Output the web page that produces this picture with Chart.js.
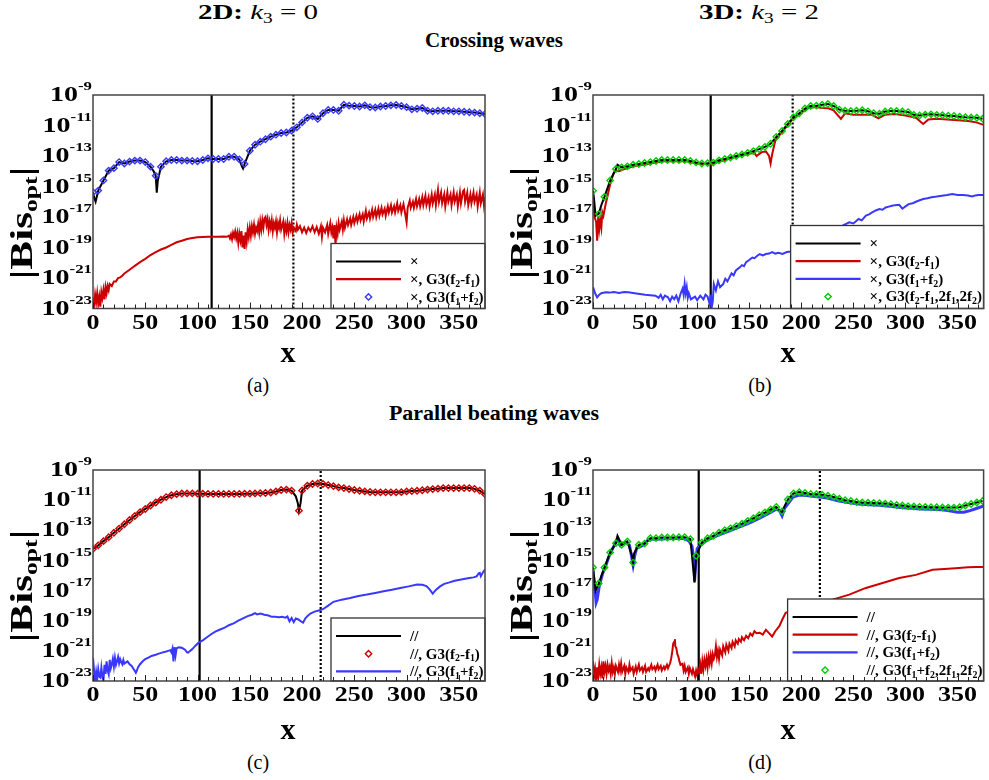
<!DOCTYPE html>
<html>
<head>
<meta charset="utf-8">
<script src="https://cdn.jsdelivr.net/npm/chart.js@4.4.1/dist/chart.umd.min.js"></script>
<style>
body { margin: 0; background: #fff; font-family: "Liberation Serif", serif; color: #000; }
#page { position: relative; width: 989px; height: 780px; overflow: hidden; }
.t { position: absolute; transform: translate(-50%, -50%); white-space: nowrap; }
.w { transform: translate(-50%, -50%) scaleX(1.38); }
.t sub { font-size: 14px; vertical-align: -4px; line-height: 0; }
canvas { position: absolute; }
</style>
</head>
<body>
<div id="page">
  <div class="t w" style="left:258px;top:12px;font-size:21px"><b>2D:</b> <i>k</i><sub>3</sub> = 0</div>
  <div class="t w" style="left:759px;top:12px;font-size:21px"><b>3D:</b> <i>k</i><sub>3</sub> = 2</div>
  <div class="t" style="left:494px;top:40px;font-size:21px;font-weight:bold">Crossing waves</div>
  <div class="t" style="left:494px;top:413px;font-size:22px;font-weight:bold">Parallel beating waves</div>

  <canvas id="ca" width="495" height="270" style="left:0;top:80px"></canvas>
  <canvas id="cb" width="489" height="270" style="left:500px;top:80px"></canvas>
  <canvas id="cc" width="495" height="270" style="left:0;top:455px"></canvas>
  <canvas id="cd" width="489" height="270" style="left:500px;top:455px"></canvas>

  <div class="t" style="left:288px;top:352px;font-size:30px;font-weight:bold">x</div>
  <div class="t" style="left:788px;top:352px;font-size:30px;font-weight:bold">x</div>
  <div class="t" style="left:288px;top:729px;font-size:30px;font-weight:bold">x</div>
  <div class="t" style="left:788px;top:729px;font-size:30px;font-weight:bold">x</div>

  <div class="t" style="left:258px;top:385px;font-size:20px">(a)</div>
  <div class="t" style="left:760px;top:385px;font-size:20px">(b)</div>
  <div class="t" style="left:258px;top:762px;font-size:20px">(c)</div>
  <div class="t" style="left:760px;top:762px;font-size:20px">(d)</div>
</div>

<script>
// axis values
const X_MIN = 0, X_MAX = 375;
const X_LABELS = [0, 50, 100, 150, 200, 250, 300, 350];
const Y_MIN = 1e-23, Y_MAX = 1e-9;
const Y_EXP = [-9, -11, -13, -15, -17, -19, -21, -23];

// vertical marker lines [solid, dotted]
const A_VLINES = [113.5, 191.7];
const B_VLINES = [113, 191.7];
const C_VLINES = [102, 217.8];
const D_VLINES = [101.5, 217.8];

// (a) crossing waves, 2D
const A_BLUE_MARKS = [[0,4.2e-16],[5,5.4e-16],[10,2.5e-15],[15,1.1e-14],[20,1.6e-14],[25,4e-14],[30,3.2e-14],[35,4.3e-14],[40,5e-14],[45,5e-14],[50,4e-14],[55,2e-14],[60,5e-15],[65,2e-14],[70,4.5e-14],[75,5.5e-14],[80,5.5e-14],[85,5e-14],[90,5e-14],[95,4.7e-14],[100,4.5e-14],[105,5.5e-14],[110,7e-14],[115,6.3e-14],[120,6.3e-14],[125,6.3e-14],[130,9e-14],[135,9e-14],[140,6e-14],[145,3e-14],[150,2.2e-13],[155,5.5e-13],[160,8.7e-13],[165,1.26e-12],[170,1.86e-12],[175,2.5e-12],[180,3.2e-12],[185,3.5e-12],[190,4.6e-12],[195,7.6e-12],[200,1.6e-11],[205,3.2e-11],[210,4e-11],[215,2.7e-11],[220,6.3e-11],[225,1.05e-10],[230,1.05e-10],[235,9.3e-11],[240,2.3e-10],[245,2e-10],[250,1.9e-10],[255,1.75e-10],[260,2.1e-10],[265,1.6e-10],[270,1.5e-10],[275,1.75e-10],[280,1.9e-10],[285,2.1e-10],[290,2.2e-10],[295,1.9e-10],[300,1.6e-10],[305,1.15e-10],[310,1.26e-10],[315,1.4e-10],[320,9.3e-11],[325,8.5e-11],[330,9.3e-11],[335,9.3e-11],[340,9.3e-11],[345,8.5e-11],[350,8.5e-11],[355,7.9e-11],[360,7.4e-11],[365,7e-11],[370,6.3e-11],[375,5.6e-11]];
const A_BLACK_EXTRA = [[1,2e-16],[2.5,1e-16],[58,1e-14],[61,4e-16],[62,2.5e-15],[142.5,2e-14],[143.5,1.5e-14]];
const A_RED = [[0,5e-23],[1,1.6e-23],[2,8e-23],[3,2.5e-23],[4,1e-22],[5,2e-23],[6,6e-23],[7,1.3e-23],[8,1.2e-22],[9,5e-23],[10,1.6e-22],[11,4e-23],[12,2.5e-22],[13,1e-22],[14,3e-22],[15,1.6e-22],[16,4e-22],[18,3e-22],[20,6e-22],[22,6e-22],[24,1e-21],[26,1.1e-21],[28,1.4e-21],[30,2e-21],[35,3.5e-21],[40,6.3e-21],[45,1.1e-20],[50,1.8e-20],[55,3.2e-20],[60,5e-20],[65,7.4e-20],[70,1e-19],[75,1.5e-19],[80,2.2e-19],[85,2.8e-19],[90,3.6e-19],[95,4.2e-19],[100,4.7e-19],[105,4.9e-19],[110,5.1e-19],[115,5.1e-19],[120,5e-19],[125,5.2e-19],[128,5e-19],[130,6e-19],[131,4e-19],[132,7e-19],[133,3.5e-19],[134,9e-19],[135,5e-19],[136,1.1e-18],[137,4e-19],[138,9e-19],[139,2e-19],[140,8e-19],[141,3e-19],[142,1.2e-18],[143,1e-19],[144,6e-19],[145,8e-20],[146,1e-18],[147,2.5e-19],[148,1.5e-18],[149,5e-19],[150,2e-18],[151,6e-19],[152,2.5e-18],[153,1e-18],[154,3e-18],[155,8e-19],[156,2e-18],[157,1.2e-18],[158,3.5e-18],[159,1e-18],[160,5e-18],[161,1.5e-18],[162,6e-18],[163,2e-18],[164,8e-18],[165,1e-17],[166,3e-18],[167,7e-18],[168,1.5e-18],[169,5e-18],[170,2e-18],[171,6e-18],[172,1.2e-18],[173,4e-18],[174,2e-18],[175,5e-18],[176,1e-18],[177,4e-18],[178,2e-18],[179,6e-18],[180,1.5e-18],[182,5e-18],[183,8e-19],[184,3e-18],[185,1.2e-18],[186,4e-18],[187,1e-18],[188,3e-18],[189,1.5e-18],[190,4e-18],[191,1e-18],[192,2e-18],[194,1.2e-18],[195,3e-18],[196,1.5e-18],[198,2.5e-18],[200,1e-18],[202,2e-18],[204,9e-19],[206,2e-18],[208,1.2e-18],[210,2.5e-18],[212,1e-18],[214,2.2e-18],[216,8e-19],[218,2.5e-18],[219,5e-19],[220,2e-18],[222,1e-18],[224,3e-18],[225,8e-19],[227,4e-18],[228,1e-18],[229,2e-18],[230,4e-19],[231,3e-18],[232,1.5e-19],[233,2e-18],[234,8e-19],[235,4e-18],[236,1.5e-18],[238,5e-18],[239,1.5e-18],[240,6e-18],[241,2e-18],[243,7e-18],[244,3e-18],[246,8e-18],[247,3e-18],[249,1e-17],[250,4e-18],[252,1.2e-17],[253,5e-18],[255,1.5e-17],[256,6e-18],[258,1.5e-17],[259,5e-18],[261,2.5e-17],[262,8e-18],[264,2e-17],[265,8e-18],[267,3e-17],[268,1e-17],[270,3e-17],[271,1e-17],[273,3.5e-17],[274,1.2e-17],[276,4e-17],[277,1.5e-17],[279,3.5e-17],[280,1.2e-17],[282,5e-17],[283,2e-17],[285,6e-17],[286,2e-17],[288,5e-17],[289,2e-17],[291,8e-17],[292,2.5e-17],[294,6e-17],[295,2e-17],[297,7e-17],[298,3e-17],[300,4.5e-18],[301,4e-17],[303,1.2e-16],[304,4e-17],[306,1e-16],[307,4e-17],[309,1.5e-16],[310,5e-17],[312,1.5e-16],[313,5e-17],[315,2e-16],[316,6e-17],[318,2.5e-16],[319,6e-17],[321,2e-16],[322,5e-17],[324,3e-16],[325,8e-17],[327,3e-16],[328,6e-17],[330,6e-16],[331,1e-16],[333,4e-16],[334,8e-17],[336,3e-16],[337,5e-17],[339,4e-16],[340,1e-16],[342,3e-16],[343,6e-17],[345,4e-16],[346,1e-16],[348,3e-16],[349,5e-17],[351,4e-16],[352,8e-17],[354,5e-16],[355,6e-16],[356,1e-16],[358,4e-16],[359,6e-17],[361,3e-16],[362,8e-17],[364,4e-16],[365,1e-16],[367,3e-16],[368,5e-17],[370,4e-16],[371,8e-17],[373,3e-16],[374,6e-17],[375,2e-16]];

// (b) crossing waves, 3D
const B_GREEN_MARKS = [[0,5.2e-16],[5.5,1.6e-17],[11,2.1e-16],[16.5,2.5e-15],[22,1.4e-14],[27.5,1.8e-14],[33,2.1e-14],[38.5,2.7e-14],[44,3e-14],[49.5,3.5e-14],[55,4e-14],[60.5,4.7e-14],[66,5.5e-14],[71.5,5.5e-14],[77,5.5e-14],[82.5,5.5e-14],[88,5.5e-14],[93.5,4.7e-14],[99,3.8e-14],[104.5,3.2e-14],[110,3.4e-14],[115.5,3.7e-14],[121,5.2e-14],[126.5,6.3e-14],[132,8e-14],[137.5,1e-13],[143,1.26e-13],[148.5,1.6e-13],[154,2.1e-13],[159.5,2.8e-13],[165,4e-13],[170.5,6.3e-13],[176,1.8e-12],[181.5,4.4e-12],[187,1.26e-11],[192.5,3.5e-11],[198,6.3e-11],[203.5,1.3e-10],[209,1.9e-10],[214.5,2e-10],[220,2.3e-10],[225.5,2.6e-10],[231,1.9e-10],[236.5,1.1e-10],[242,9.3e-11],[247.5,8.9e-11],[253,9.3e-11],[258.5,1e-10],[264,8.5e-11],[269.5,6.3e-11],[275,6e-11],[280.5,8.3e-11],[286,8.9e-11],[291.5,8.9e-11],[297,8.3e-11],[302.5,7.6e-11],[308,5e-11],[313.5,4.5e-11],[319,5.2e-11],[324.5,5.4e-11],[330,5e-11],[335.5,4.7e-11],[341,4.4e-11],[346.5,4.2e-11],[352,3.8e-11],[357.5,3.5e-11],[363,3.4e-11],[368.5,3.2e-11],[374,2.8e-11]];
const B_BLACK_EXTRA = [[1,1.5e-16],[2.5,1.2e-17],[8,6e-17],[23.5,2.7e-14]];
const B_RED = [[0,3e-16],[1.5,1e-17],[3,5e-18],[4,2.8e-19],[5,1e-17],[6,1.6e-18],[7,6e-18],[8,2e-18],[9,2e-17],[10,1.2e-17],[12,6.3e-17],[14,2.5e-16],[16,1e-15],[18,3.2e-15],[20,8e-15],[22,1.1e-14],[25,1e-14],[30,1.4e-14],[40,2.2e-14],[50,2.8e-14],[60,3.8e-14],[70,4.7e-14],[90,4.5e-14],[100,3.2e-14],[113,2.8e-14],[120,4e-14],[135,8e-14],[150,1.4e-13],[155,1.6e-13],[157,1e-13],[162,1.8e-13],[166,2e-13],[169,1e-13],[170.5,3.2e-14],[172,1.3e-13],[175,1e-12],[180,2.8e-12],[186,8.9e-12],[192,2.8e-11],[200,7e-11],[207,1.4e-10],[214,1.66e-10],[220,1.4e-10],[226,1.35e-10],[231,1e-10],[238,2.7e-11],[242,6.3e-11],[250,5e-11],[260,5e-11],[268,5e-11],[274,2.9e-11],[280,5e-11],[290,5.6e-11],[300,4.5e-11],[310,3.2e-11],[317,1.26e-11],[322,2.5e-11],[330,2.8e-11],[340,2.5e-11],[350,2.2e-11],[360,2e-11],[368,1.6e-11],[375,1.1e-11]];
const B_BLUE = [[0,2.5e-22],[2,1e-22],[4,5.4e-23],[6,8e-23],[8,1e-22],[12,1.15e-22],[16,1.1e-22],[20,1.2e-22],[25,1.05e-22],[30,1.2e-22],[34,1.15e-22],[40,1e-22],[45,9e-23],[50,8e-23],[55,7.5e-23],[60,6.9e-23],[63,5e-23],[65,8e-23],[67,4e-23],[69,7e-23],[72,5.4e-23],[74,3e-23],[76,6e-23],[78,4e-23],[80,7e-23],[82,3e-23],[84,9e-23],[86,2e-22],[87,8e-23],[88,4e-22],[89,1e-22],[90,2.5e-22],[91,5e-23],[92,1e-22],[94,4e-23],[96,5e-23],[98,6e-23],[100,3.5e-23],[103,7e-23],[106,4e-23],[108,8e-23],[110,6e-23],[112,2e-23],[113,8e-23],[114,1.2e-23],[115,3e-23],[116,4e-22],[118,1.5e-22],[120,6e-22],[122,2.5e-22],[125,4e-22],[127,9e-22],[129,6e-22],[131,1.1e-21],[133,2e-21],[135,1.5e-21],[137,3e-21],[139,4e-21],[141,5e-21],[143,7e-21],[145,6e-21],[147,1.1e-20],[150,1.5e-20],[153,2.2e-20],[155,2e-20],[158,3e-20],[160,3.7e-20],[163,3e-20],[166,3.7e-20],[169,4e-20],[172,5e-20],[175,4e-20],[178,4.5e-20],[182,3.8e-20],[186,5e-20],[190,5.5e-20],[195,8e-20],[200,1.2e-19],[205,1.5e-19],[210,2e-19],[215,3e-19],[220,5e-19],[225,8e-19],[230,1.2e-18],[236,2.1e-18],[240,2.8e-18],[246,4.5e-18],[250,3.8e-18],[255,7.4e-18],[258,6e-18],[262,1.25e-17],[265,1.5e-17],[268,2e-17],[272,2.8e-17],[275,3.3e-17],[278,3e-17],[281,4.2e-17],[284,4.8e-17],[287,5.5e-17],[290,6e-17],[294,6.3e-17],[297,3.5e-17],[300,5e-17],[303,7e-17],[307,8e-17],[310,1e-16],[313,1.2e-16],[317,1.5e-16],[321,1.7e-16],[325,2e-16],[330,2.2e-16],[335,2.5e-16],[340,2.8e-16],[345,3.2e-16],[350,2.8e-16],[355,2.8e-16],[360,2.6e-16],[364,2.2e-16],[367,2.6e-16],[370,2.8e-16],[375,2.8e-16]];

// (c) parallel beating waves, 2D
const C_RED_MARKS = [[0,5.8e-15],[5,1e-14],[10,1.9e-14],[15,3.5e-14],[20,6.9e-14],[25,1.3e-13],[30,2.5e-13],[35,4.8e-13],[40,8.9e-13],[45,1.6e-12],[50,2.6e-12],[55,4.4e-12],[60,7e-12],[65,1.07e-11],[70,1.6e-11],[75,2.1e-11],[80,2.5e-11],[85,2.75e-11],[90,2.8e-11],[95,2.8e-11],[100,2.7e-11],[105,2.7e-11],[110,2.6e-11],[115,2.6e-11],[120,2.6e-11],[125,2.6e-11],[130,2.6e-11],[135,2.6e-11],[140,2.6e-11],[145,2.7e-11],[150,2.7e-11],[155,2.8e-11],[160,2.9e-11],[165,3e-11],[170,3.2e-11],[175,3.8e-11],[180,4.7e-11],[185,5e-11],[190,4.3e-11],[197,2e-12],[200,4.4e-11],[205,9.1e-11],[210,1.17e-10],[215,1.26e-10],[220,1.17e-10],[225,1e-10],[230,8.5e-11],[235,7e-11],[240,6.3e-11],[245,5.4e-11],[250,4.7e-11],[255,4.2e-11],[260,3.8e-11],[265,3.5e-11],[270,3.3e-11],[275,3.3e-11],[280,3.3e-11],[285,3.3e-11],[290,3.3e-11],[295,3.4e-11],[300,3.8e-11],[305,4e-11],[310,4.2e-11],[315,4.5e-11],[320,5e-11],[325,5.4e-11],[330,5.8e-11],[335,6.3e-11],[340,6.3e-11],[345,6.3e-11],[350,6.3e-11],[355,6.3e-11],[360,6.3e-11],[365,5.6e-11],[370,4.3e-11],[375,2.5e-11]];
const C_BLACK_EXTRA = [[194,1.8e-11],[196,6e-12],[198.5,6e-12]];
const C_BLUE = [[0,3.5e-22],[1,5e-23],[2,1e-23],[3,4e-23],[4,1.2e-23],[5,6e-23],[6,2e-23],[7,1.7e-23],[8,8e-23],[9,2e-23],[10,1e-23],[11,1.2e-22],[12,3e-23],[13,2e-22],[14,5e-23],[15,2.8e-23],[16,2.5e-22],[17,7e-23],[18,1.3e-22],[19,3e-22],[20,9e-23],[21,3.5e-22],[22,1.2e-22],[23,2.1e-22],[24,4e-22],[25,1.5e-22],[26,2.8e-22],[27,1.8e-22],[28,1.3e-22],[29,2.5e-22],[30,1.4e-22],[31,1.6e-22],[33,2e-22],[35,1.3e-22],[37,1e-22],[39,6e-23],[40,4.7e-23],[41,3.5e-23],[42,5e-23],[43,8e-23],[45,1.3e-22],[48,2.2e-22],[50,2.8e-22],[53,3.5e-22],[56,4.6e-22],[60,5.5e-22],[63,6.5e-22],[66,7.6e-22],[70,9e-22],[72,1e-21],[74,1.1e-21],[75,8e-22],[76,1.4e-21],[77,2e-22],[78,1.8e-21],[79,5e-22],[80,1.5e-21],[82,1.7e-21],[85,1.6e-21],[88,1.2e-21],[90,8e-22],[91,7.6e-22],[93,1e-21],[95,1.3e-21],[98,2.2e-21],[101,3.5e-21],[105,5e-21],[109,8e-21],[113,1.26e-20],[117,1.9e-20],[121,2.5e-20],[126,3.5e-20],[130,5e-20],[135,7e-20],[139,1e-19],[144,1.5e-19],[148,2e-19],[152,2.5e-19],[155,3.2e-19],[157,2.6e-19],[160,3e-19],[164,2.5e-19],[168,2.2e-19],[171,1.8e-19],[174,1.8e-19],[178,1.7e-19],[181,1.8e-19],[184,1.6e-19],[186,1.9e-19],[188,9e-20],[190,1.5e-19],[192,8e-20],[194,1.4e-19],[196,1.25e-19],[199,9e-20],[201,7.4e-20],[203,1.4e-19],[205,2e-19],[208,3e-19],[212,4e-19],[216,4.8e-19],[220,5.8e-19],[225,1e-18],[230,1.8e-18],[238,2.5e-18],[246,3.2e-18],[254,4.3e-18],[262,5.4e-18],[270,7e-18],[278,8.9e-18],[286,1.15e-17],[294,1.5e-17],[302,1.9e-17],[310,2.5e-17],[315,2.4e-17],[319,2e-17],[322,1.2e-17],[325,6.3e-18],[328,1.1e-17],[332,1.9e-17],[336,2.8e-17],[341,3.5e-17],[346,4.5e-17],[351,5.2e-17],[356,6e-17],[360,6.8e-17],[364,7.5e-17],[367,8.7e-17],[369,1.4e-16],[370,1.5e-16],[371,9e-17],[372,1.2e-16],[373,1.6e-16],[374,2e-16],[375,2.4e-16]];

// (d) parallel beating waves, 3D
const D_GREEN_MARKS = [[0,3.4e-16],[5.5,3e-17],[11,3.4e-16],[16.5,3.4e-15],[22,1.4e-14],[27.5,1.1e-14],[33,1.8e-14],[38.5,7.2e-16],[44,1.1e-14],[49.5,1.3e-14],[55,3e-14],[60.5,3e-14],[66,3.3e-14],[71.5,3.3e-14],[77,3.3e-14],[82.5,3.5e-14],[88,3.5e-14],[93.5,2.6e-14],[99,2e-15],[104.5,1.55e-14],[110,3e-14],[115.5,4.3e-14],[121,7e-14],[126.5,1e-13],[132,1.35e-13],[137.5,1.9e-13],[143,2.75e-13],[148.5,4.2e-13],[154,6.3e-13],[159.5,1e-12],[165,1.5e-12],[170.5,2.4e-12],[176,3.5e-12],[181.5,1.8e-12],[187,1.1e-11],[192.5,2.8e-11],[198,3.4e-11],[203.5,3e-11],[209,2.6e-11],[214.5,2.5e-11],[220,2.3e-11],[225.5,2e-11],[231,1.6e-11],[236.5,1.26e-11],[242,1e-11],[247.5,8.7e-12],[253,7.6e-12],[258.5,7e-12],[264,6.8e-12],[269.5,6.5e-12],[275,6.3e-12],[280.5,5.9e-12],[286,5.4e-12],[291.5,4.8e-12],[297,4.4e-12],[302.5,4e-12],[308,3.8e-12],[313.5,3.6e-12],[319,3.5e-12],[324.5,3.4e-12],[330,3.4e-12],[335.5,3.3e-12],[341,3.2e-12],[346.5,3.2e-12],[352,3.4e-12],[357.5,4.4e-12],[363,5.6e-12],[368.5,7e-12],[374,8.7e-12]];
const D_BLACK_EXTRA = [[2.5,1e-17],[23.5,4.3e-14],[37.5,2e-15],[39.5,3e-15],[97.5,3.4e-17],[181,1.5e-12]];
const D_RED = [[0,2e-22],[1,2e-23],[2,6e-23],[3,1e-23],[4,8e-23],[5,2e-23],[6,1.2e-22],[7,3e-23],[8,8e-23],[9,1.5e-23],[10,2e-22],[11,4e-23],[12,1e-22],[13,3e-23],[14,1.2e-22],[15,5e-23],[16,9e-23],[17,3e-23],[18,1.5e-22],[19,4e-23],[20,8e-23],[21,3e-23],[22,1e-22],[24,4e-23],[25,1.2e-22],[26,5e-23],[27,1.5e-22],[28,4e-23],[30,1e-22],[31,3e-23],[32,8e-23],[34,4e-23],[35,1.2e-22],[36,5e-23],[38,8e-23],[39,3e-23],[41,9e-23],[42,4e-23],[44,1.2e-22],[45,5e-23],[47,8e-23],[48,4e-23],[50,1e-22],[51,4e-23],[53,7e-23],[54,5e-23],[56,1.2e-22],[57,6e-23],[59,9e-23],[60,5e-23],[62,1.2e-22],[63,6e-23],[65,1e-22],[66,5e-23],[68,9e-23],[69,6e-23],[71,1.2e-22],[72,7e-23],[74,1.5e-22],[75,3e-22],[76,8e-22],[77,3e-21],[78,4e-21],[78.6,6e-21],[79,2e-21],[80,1.5e-21],[81,6e-22],[82,4e-22],[83,2e-22],[84,1.2e-22],[86,1.4e-22],[87,5e-23],[88,1e-22],[89,4e-23],[91,8e-23],[92,3e-23],[93,7e-23],[95,3e-23],[96,6e-23],[98,2e-23],[99,5e-23],[100,2.5e-23],[101,6e-23],[102,4e-23],[103,1.2e-22],[104,3e-23],[105,2e-22],[106,6e-23],[107,2.5e-22],[108,1e-22],[109,3e-22],[110,8e-23],[111,4e-22],[112,1.5e-22],[113,5e-22],[114,1.5e-22],[115,6e-22],[116,3e-22],[117,5e-22],[118,2e-21],[119,4e-22],[120,1e-21],[121,3e-22],[122,1.2e-21],[124,5e-22],[125,2e-21],[127,8e-22],[128,2.5e-21],[130,1e-21],[131,3e-21],[133,1.5e-21],[134,4e-21],[136,2e-21],[137,5e-21],[139,3e-21],[140,6e-21],[142,4e-21],[143,8e-21],[145,5e-21],[147,1e-20],[149,7e-21],[151,1.4e-20],[153,1e-20],[155,2e-20],[157,1.5e-20],[160,1.6e-20],[163,1.2e-20],[166,2.5e-20],[169,1.5e-20],[172,9e-21],[175,2e-20],[179,4.5e-20],[182,1.3e-19],[185,3.4e-19],[190,4.5e-19],[195,6e-19],[200,8e-19],[210,1.1e-18],[220,1.5e-18],[230,2.5e-18],[246,5.4e-18],[262,1.5e-17],[278,3.2e-17],[294,6.8e-17],[310,1.1e-16],[326,2.4e-16],[341,2.8e-16],[351,3.2e-16],[360,3.5e-16],[368,3.6e-16],[375,3.7e-16]];
const D_BLUE = [[0,2e-16],[2,1e-17],[3,1.6e-18],[4,2.5e-18],[6,2e-17],[9,1.2e-16],[12,4e-16],[16,2.5e-15],[20,9e-15],[23.5,3e-14],[26,1e-14],[29,1.3e-14],[32,1.6e-14],[35,1e-14],[37,2e-15],[38.5,5e-16],[40,2e-15],[42,7e-15],[45,8e-15],[48,1e-14],[52,2e-14],[56,2.5e-14],[62,2.5e-14],[70,2.7e-14],[80,2.8e-14],[88,2.8e-14],[92,2e-14],[95,9e-15],[97,1e-15],[97.5,4e-17],[98.5,5e-16],[100,6e-15],[104,1.2e-14],[110,2.3e-14],[116,3.5e-14],[121,5e-14],[130,8.5e-14],[140,1.6e-13],[150,3e-13],[160,6.3e-13],[170,1.5e-12],[176,2.5e-12],[179,2e-12],[181.5,9e-13],[184,3e-12],[188,7e-12],[192,1.6e-11],[198,2.2e-11],[205,2e-11],[215,1.7e-11],[225,1.4e-11],[235,9e-12],[245,7e-12],[255,5.5e-12],[265,5e-12],[275,4.6e-12],[285,4e-12],[295,3.3e-12],[305,2.9e-12],[315,2.6e-12],[325,2.5e-12],[335,2.3e-12],[342,2e-12],[350,1.6e-12],[356,1.6e-12],[362,2e-12],[368,2.8e-12],[372,3.5e-12],[375,4e-12]];

// legend labels ('_' marks a subscript character)
const A_LABELS = ['\u00d7', '\u00d7, G3(f_2-f_1)', '\u00d7, G3(f_1+f_2)'];
const B_LABELS = ['\u00d7', '\u00d7, G3(f_2-f_1)', '\u00d7, G3(f_1+f_2)', '\u00d7, G3(f_2-f_1,2f_1,2f_2)'];
const C_LABELS = ['//', '//, G3(f_2-f_1)', '//, G3(f_1+f_2)'];
const D_LABELS = ['//', '//, G3(f_2-f_1)', '//, G3(f_1+f_2)', '//, G3(f_1+f_2,2f_1,2f_2)'];

const BLACK = '#000000', RED = '#cc0000', BLUE = '#3838ff', GREEN = '#00cc00';
const FONT = '"Liberation Serif", "Times New Roman", serif';

function byX(a, b) { return a[0] - b[0]; }

function lineSet(data, color, order, width) {
  return { data: data, borderColor: color, backgroundColor: color, borderWidth: width || 2,
           showLine: true, pointRadius: 0, order: order };
}
function markSet(data, color) {
  return { data: data, borderColor: color, backgroundColor: 'rgba(0,0,0,0)', borderWidth: 1.4,
           showLine: false, pointStyle: 'rectRot', pointRadius: 3.2, order: 0 };
}
function vlineSets(xs) {
  return [
    { data: [[xs[0], Y_MIN], [xs[0], Y_MAX]], borderColor: BLACK, borderWidth: 2.2,
      showLine: true, pointRadius: 0, order: 5 },
    { data: [[xs[1], Y_MIN], [xs[1], Y_MAX]], borderColor: BLACK, borderWidth: 2.2,
      borderDash: [2, 2], showLine: true, pointRadius: 0, order: 5 }
  ];
}

// text with '_' subscripts
function richText(ctx, str, x, y, size) {
  let cx = x;
  for (let i = 0; i < str.length; i++) {
    let ch = str[i], sub = false;
    if (ch === '_') { ch = str[++i]; sub = true; }
    ctx.font = 'bold ' + (sub ? size * 0.66 : size) + 'px ' + FONT;
    ctx.fillText(ch, cx, y + (sub ? size * 0.28 : 0));
    cx += ctx.measureText(ch).width;
  }
}

const panelPlugin = {
  id: 'panel',
  afterDatasetsDraw(chart, args, opts) {
    const ctx = chart.ctx, a = chart.chartArea;
    const xs = chart.scales.x, ys = chart.scales.y;
    ctx.save();

    // legend box
    const lw = opts.legendW, lh = opts.legendH;
    const lx = a.right - lw, ly = a.bottom - lh;
    ctx.fillStyle = '#fff';
    ctx.fillRect(lx, ly, lw, lh);
    ctx.strokeStyle = '#333';
    ctx.lineWidth = 1.3;
    ctx.strokeRect(lx, ly, lw, lh);
    ctx.textBaseline = 'middle';
    opts.items.forEach((it, i) => {
      const ry = ly + 18 + i * 17.7;
      if (it.kind === 'line') {
        ctx.strokeStyle = it.color;
        ctx.lineWidth = 2.2;
        ctx.beginPath(); ctx.moveTo(lx + 5, ry); ctx.lineTo(lx + 70, ry); ctx.stroke();
      } else {
        ctx.strokeStyle = it.color;
        ctx.lineWidth = 1.4;
        const cx = lx + 37.5, r = 3.2;
        ctx.beginPath();
        ctx.moveTo(cx, ry - r); ctx.lineTo(cx + r, ry); ctx.lineTo(cx, ry + r); ctx.lineTo(cx - r, ry);
        ctx.closePath(); ctx.stroke();
      }
      ctx.fillStyle = '#000';
      richText(ctx, it.text, lx + 79, ry + 1, 15);
    });

    // frame
    ctx.strokeStyle = '#444';
    ctx.lineWidth = 1.5;
    ctx.strokeRect(a.left, a.top, a.right - a.left, a.bottom - a.top);

    // inward x ticks
    ctx.strokeStyle = '#222';
    ctx.lineWidth = 1;
    for (let v = X_MIN; v <= X_MAX; v += 10) {
      const px = Math.round(xs.getPixelForValue(v)) + 0.5;
      const len = v % 50 === 0 ? 6 : 4;
      ctx.beginPath(); ctx.moveTo(px, a.bottom); ctx.lineTo(px, a.bottom - len); ctx.stroke();
    }

    // x tick labels
    ctx.fillStyle = '#000';
    ctx.textAlign = 'center';
    ctx.textBaseline = 'middle';
    X_LABELS.forEach(v => {
      ctx.save();
      ctx.translate(xs.getPixelForValue(v), a.bottom + 15);
      ctx.scale(1.3, 1);
      ctx.font = 'bold 20px ' + FONT;
      ctx.fillText(String(v), 0, 0);
      ctx.restore();
    });

    // y tick labels 10^n
    ctx.textAlign = 'right';
    Y_EXP.forEach(e => {
      const py = ys.getPixelForValue(Math.pow(10, e));
      ctx.save();
      ctx.translate(a.left - 1, py);
      ctx.scale(1.4, 1);
      ctx.font = 'bold 12px ' + FONT;
      const sup = String(e);
      const sw = ctx.measureText(sup).width;
      ctx.fillText(sup, 0, -8);
      ctx.font = 'bold 20px ' + FONT;
      ctx.fillText('10', -sw, 1);
      ctx.restore();
    });

    // y axis title |Bis_opt|
    ctx.save();
    ctx.translate(24, opts.titleY);
    ctx.rotate(-Math.PI / 2);
    ctx.scale(1.35, 1);
    ctx.textAlign = 'left';
    ctx.textBaseline = 'middle';
    ctx.font = 'bold 32px ' + FONT;
    const w1 = ctx.measureText('|Bis').width;
    ctx.font = 'bold 19px ' + FONT;
    const w2 = ctx.measureText('opt').width;
    ctx.font = 'bold 32px ' + FONT;
    const w3 = ctx.measureText('|').width;
    let tx = -(w1 + w2 + w3) / 2;
    ctx.fillText('|Bis', tx, 0);
    tx += w1;
    ctx.font = 'bold 19px ' + FONT;
    ctx.fillText('opt', tx, 8);
    tx += w2;
    ctx.font = 'bold 32px ' + FONT;
    ctx.fillText('|', tx, 0);
    ctx.restore();

    ctx.restore();
  }
};

function makePanel(id, datasets, items, lw, lh, pad) {
  return new Chart(document.getElementById(id), {
    type: 'scatter',
    data: { datasets: datasets },
    options: {
      responsive: false,
      animation: false,
      events: [],
      layout: { padding: { top: pad.top, right: pad.right, left: 0, bottom: 0 } },
      plugins: {
        legend: { display: false },
        tooltip: { enabled: false },
        panel: { items: items, legendW: lw, legendH: lh, titleY: pad.titleY }
      },
      scales: {
        x: {
          type: 'linear', min: X_MIN, max: X_MAX,
          grid: { display: false, drawTicks: false },
          border: { display: false },
          ticks: { display: false, stepSize: 50 },
          afterFit(s) { s.height = pad.xh; }
        },
        y: {
          type: 'logarithmic', min: Y_MIN, max: Y_MAX,
          grid: { display: false, drawTicks: false },
          border: { display: false },
          ticks: { display: false },
          afterFit(s) { s.width = 93; }
        }
      }
    },
    plugins: [panelPlugin]
  });
}

const sortedA = A_BLUE_MARKS.concat(A_BLACK_EXTRA).sort(byX);
makePanel('ca', [
  markSet(A_BLUE_MARKS, BLUE),
  lineSet(sortedA, BLACK, 1),
  lineSet(A_RED, RED, 2)
].concat(vlineSets(A_VLINES)), [
  { kind: 'line', color: BLACK, text: A_LABELS[0] },
  { kind: 'line', color: RED, text: A_LABELS[1] },
  { kind: 'mark', color: BLUE, text: A_LABELS[2] }
], 154, 65, { top: 15, right: 10, xh: 41.5, titleY: 143 });

const sortedB = B_GREEN_MARKS.concat(B_BLACK_EXTRA).sort(byX);
makePanel('cb', [
  markSet(B_GREEN_MARKS, GREEN),
  lineSet(sortedB, BLACK, 1),
  lineSet(B_RED, RED, 2),
  lineSet(B_BLUE, BLUE, 3)
].concat(vlineSets(B_VLINES)), [
  { kind: 'line', color: BLACK, text: B_LABELS[0] },
  { kind: 'line', color: RED, text: B_LABELS[1] },
  { kind: 'line', color: BLUE, text: B_LABELS[2] },
  { kind: 'mark', color: GREEN, text: B_LABELS[3] }
], 193, 83, { top: 15, right: 4, xh: 41.5, titleY: 143 });

const sortedC = C_RED_MARKS.concat(C_BLACK_EXTRA).sort(byX);
makePanel('cc', [
  markSet(C_RED_MARKS, RED),
  lineSet(sortedC, BLACK, 1),
  lineSet(C_BLUE, BLUE, 2)
].concat(vlineSets(C_VLINES)), [
  { kind: 'line', color: BLACK, text: C_LABELS[0] },
  { kind: 'mark', color: RED, text: C_LABELS[1] },
  { kind: 'line', color: BLUE, text: C_LABELS[2] }
], 154, 63, { top: 15, right: 10, xh: 44, titleY: 131 });

const sortedD = D_GREEN_MARKS.concat(D_BLACK_EXTRA).sort(byX);
makePanel('cd', [
  markSet(D_GREEN_MARKS, GREEN),
  lineSet(sortedD, BLACK, 1),
  lineSet(D_BLUE, BLUE, 2, 3),
  lineSet(D_RED, RED, 3)
].concat(vlineSets(D_VLINES)), [
  { kind: 'line', color: BLACK, text: D_LABELS[0] },
  { kind: 'line', color: RED, text: D_LABELS[1] },
  { kind: 'line', color: BLUE, text: D_LABELS[2] },
  { kind: 'mark', color: GREEN, text: D_LABELS[3] }
], 196, 82, { top: 15, right: 4, xh: 44, titleY: 131 });
</script>
</body>
</html>
